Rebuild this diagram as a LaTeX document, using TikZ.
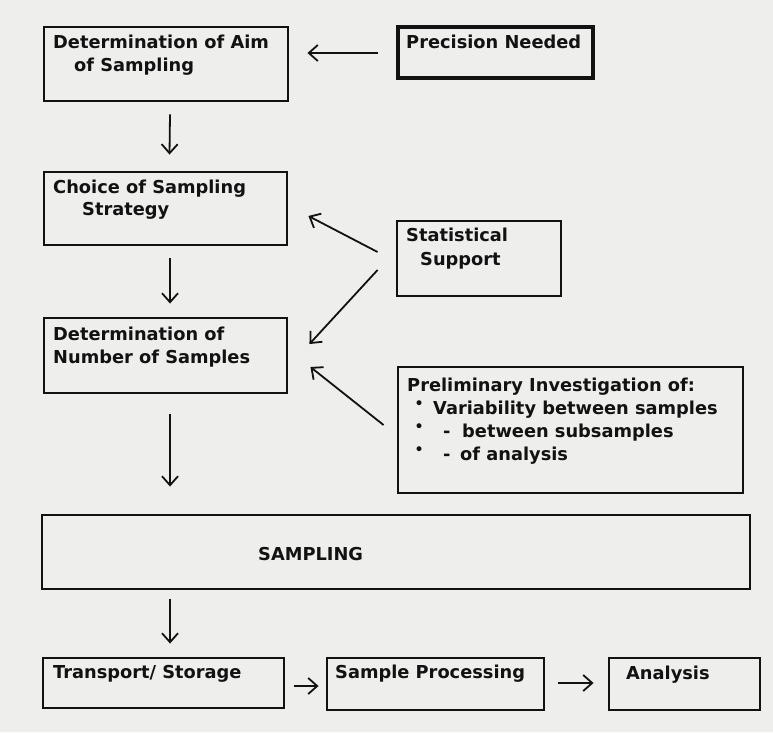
\documentclass[tikz,border=0pt]{standalone}
\usepackage{fontspec}
\setmainfont{DejaVu Sans}
\usetikzlibrary{arrows.meta,calc}
\definecolor{paper}{RGB}{238,238,236}
\definecolor{ink}{RGB}{18,18,18}
\begin{document}
\begin{tikzpicture}[x=1pt,y=-1pt,
  box/.style={draw=ink, line width=2.9pt, inner sep=0pt},
  thickbox/.style={box, line width=4.4pt},
  lbl/.style={anchor=base west, inner sep=0pt, font=\fontsize{17.8}{23}\selectfont\bfseries, text=ink},
  bul/.style={anchor=base west, inner sep=0pt, font=\fontsize{17}{17}\selectfont, text=ink},
  arr/.style={draw=ink, line width=1.8pt, -{Straight Barb[length=9pt,width=16pt]}}]
\fill[paper] (0,0) rectangle (773,732);
\useasboundingbox (0,0) rectangle (773,732);

% boxes
\node[box, minimum width=244, minimum height=74] (aim) at (166,64) {};
\node[thickbox, minimum width=195, minimum height=51] (prec) at (495.5,52.5) {};
\node[box, minimum width=243, minimum height=73] (strat) at (165.5,208.5) {};
\node[box, minimum width=164, minimum height=75] (stat) at (479,258.5) {};
\node[box, minimum width=243, minimum height=75] (num) at (165.5,355.5) {};
\node[box, minimum width=345, minimum height=126] (prelim) at (570.5,430) {};
\node[box, minimum width=708, minimum height=74] (samp) at (396,552) {};
\node[box, minimum width=241, minimum height=50] (trans) at (163.5,683) {};
\node[box, minimum width=217, minimum height=52] (proc) at (435.5,684) {};
\node[box, minimum width=151, minimum height=52] (anal) at (684.5,684) {};

% texts
\node[lbl] (t1) at (53,48) {Determination of Aim};
\node[lbl] (t2) at (74,71) {of Sampling};
\node[lbl] (t3) at (406,48) {Precision Needed};
\node[lbl] (t4) at (53,193) {Choice of Sampling};
\node[lbl] (t5) at (82,215) {Strategy};
\node[lbl] (t6) at (406,241) {Statistical};
\node[lbl] (t7) at (420,265) {Support};
\node[lbl] (t8) at (53,340) {Determination of};
\node[lbl] (t9) at (53,363) {Number of Samples};
\node[lbl] (t10) at (407,391) {Preliminary Investigation of:};
\node[bul] (b1) at (414,409) {•};
\node[lbl] (t11) at (433,414) {Variability between samples};
\node[bul] (b2) at (414,432) {•};
\node[lbl] (d1) at (443,437) {-};
\node[lbl] (t12) at (462,437) {between subsamples};
\node[bul] (b3) at (414,455) {•};
\node[lbl] (d2) at (443,460) {-};
\node[lbl] (t13) at (460,460) {of analysis};
\node[lbl] (t14) at (258,560) {SAMPLING};
\node[lbl] (t15) at (53,678) {Transport/ Storage};
\node[lbl] (t16) at (335,678) {Sample Processing};
\node[lbl] (t17) at (626,679) {Analysis};

% connectors
\draw[arr] ($(prec.west)+(-18,0.5)$) -- ($(aim.east)+(18,-11)$);
\draw[arr] ($(aim.south)+(4,12)$) -- ($(strat.north)+(4,-16)$);
\draw[arr] ($(strat.south)+(4.5,12)$) -- ($(num.north)+(4.5,-13)$);
\draw[arr] ($(num.south)+(4.5,20)$) -- ($(samp.north)+(-226,-27)$);
\draw[arr] ($(samp.south)+(-226,9)$) -- ($(trans.north)+(6.5,-13)$);
\draw[arr] ($(stat.west)+(-18,-6.5)$) -- ($(strat.east)+(20,7.5)$);
\draw[arr] ($(stat.west)+(-18,11.5)$) -- ($(num.east)+(21,-11.5)$);
\draw[arr] ($(prelim.west)+(-13,-5)$) -- ($(num.east)+(22,11.5)$);
\draw[arr] ($(trans.east)+(9,3)$) -- ($(proc.west)+(-7,2)$);
\draw[arr] ($(proc.east)+(13,-1)$) -- ($(anal.west)+(-14,-1)$);
\end{tikzpicture}
\end{document}
